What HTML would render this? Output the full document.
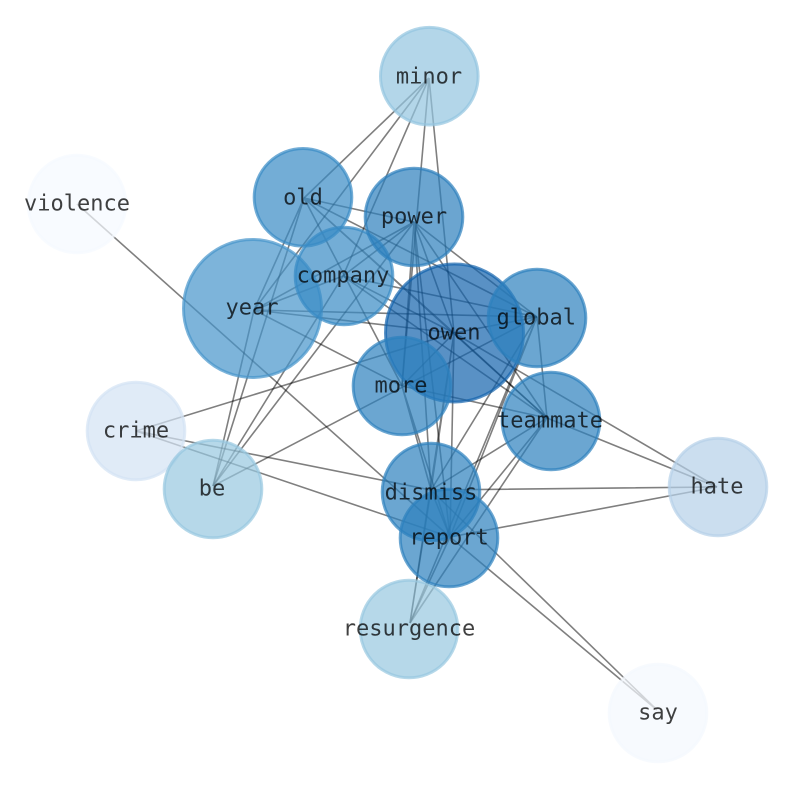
<!DOCTYPE html>
<html><head><meta charset="utf-8"><style>
html,body{margin:0;padding:0;background:#fff}
svg{display:block}
text{font-family:"DejaVu Sans Mono","Liberation Mono",monospace;font-size:22px;fill:#000;fill-opacity:.75;text-anchor:middle}
</style></head><body>
<svg width="794" height="790" viewBox="0 0 794 790" xmlns="http://www.w3.org/2000/svg">
<rect width="794" height="790" fill="#fff"/>
<g stroke="#000" stroke-opacity=".5" stroke-width="1.6" fill="none">
<path d="M429 78L304 198M429 78L254 310M429 78L343 276M429 78L402 386M429 78L454 333"/>
<path d="M304 198L414 222M304 198L254 310M304 198L213 486M304 198L537 317M304 198L402 386M304 198L454 333M304 198L547 418"/>
<path d="M414 222L254 310M414 222L343 276M414 222L213 486M414 222L537 317M414 222L454 333M414 222L547 418M414 222L431 490M414 222L450 537M414 222L402 386"/>
<path d="M254 310L343 276M254 310L213 486M254 310L537 317M254 310L454 333M254 310L402 386"/>
<path d="M343 276L213 486M343 276L537 317M343 276L454 333M343 276L547 418"/>
<path d="M77 204L450 537"/>
<path d="M136 431L454 333M136 431L431 490M136 431L450 537"/>
<path d="M213 486L537 317"/>
<path d="M454 333L537 317M454 333L402 386M454 333L547 418M454 333L717 487M454 333L431 490M454 333L450 537M454 333L410 623"/>
<path d="M402 386L547 418M402 386L431 490M402 386L450 537"/>
<path d="M537 317L547 418M537 317L431 490M537 317L450 537M537 317L410 623"/>
<path d="M547 418L717 487M547 418L431 490M547 418L450 537M547 418L410 623"/>
<path d="M431 490L717 487M450 537L717 487M431 490L657 710M450 537L657 710M431 490L450 537M431 490L410 623M450 537L410 623"/>
</g>
<g stroke-width="3" fill-opacity=".7" stroke-opacity=".7">
<circle cx="77" cy="204" r="48.8" fill="#f5faff" stroke="#f5faff"/>
<circle cx="658" cy="713" r="48.8" fill="#f3f8fe" stroke="#f3f8fe"/>
<circle cx="136" cy="431" r="48.8" fill="#d3e2f4" stroke="#d3e2f4"/>
<circle cx="718" cy="487" r="48.8" fill="#b5d0e8" stroke="#b5d0e8"/>
<circle cx="429.300" cy="76.200" r="48.8" fill="#93c4df" stroke="#93c4df"/>
<circle cx="213" cy="489" r="48.8" fill="#97c8e0" stroke="#97c8e0"/>
<circle cx="409" cy="629" r="48.8" fill="#97c8e0" stroke="#97c8e0"/>
<circle cx="252.500" cy="308.500" r="69" fill="#4694ca" stroke="#4694ca"/>
<circle cx="303" cy="197.300" r="48.8" fill="#388ac5" stroke="#388ac5"/>
<circle cx="344" cy="276" r="48.8" fill="#388ac5" stroke="#388ac5"/>
<circle cx="414" cy="217" r="48.8" fill="#2c7fbc" stroke="#2c7fbc"/>
<circle cx="454.500" cy="333" r="69" fill="#1263ac" stroke="#1263ac"/>
<circle cx="537" cy="318" r="48.8" fill="#2c80bd" stroke="#2c80bd"/>
<circle cx="402" cy="386" r="48.8" fill="#2c80bd" stroke="#2c80bd"/>
<circle cx="551" cy="421" r="48.8" fill="#2c80bd" stroke="#2c80bd"/>
<circle cx="431" cy="492" r="48.8" fill="#2c80bd" stroke="#2c80bd"/>
<circle cx="449" cy="538" r="48.8" fill="#2c80bd" stroke="#2c80bd"/>
</g>
<text x="429" y="83.600">minor</text>
<text x="77" y="210.600">violence</text>
<text x="303" y="204.600">old</text>
<text x="414" y="223.600">power</text>
<text x="343" y="282.600">company</text>
<text x="252" y="314.600">year</text>
<text x="454" y="339.600">owen</text>
<text x="536.300" y="324.600">global</text>
<text x="401" y="392.600">more</text>
<text x="550" y="427.600">teammate</text>
<text x="136" y="437.600">crime</text>
<text x="212" y="495.600">be</text>
<text x="431" y="499.600">dismiss</text>
<text x="449" y="544.600">report</text>
<text x="717" y="493.600">hate</text>
<text x="409" y="635.600">resurgence</text>
<text x="658" y="719.600">say</text>
</svg>
</body></html>
